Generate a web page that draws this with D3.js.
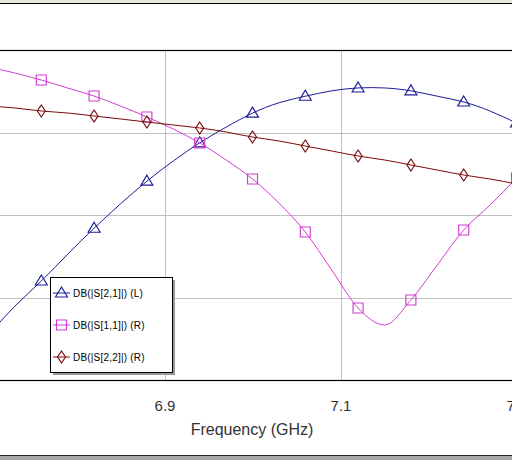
<!DOCTYPE html>
<html>
<head>
<meta charset="utf-8">
<script src="https://cdn.jsdelivr.net/npm/d3@7"></script>
<style>
  html, body { margin: 0; padding: 0; background: #fff; }
  svg { display: block; }
</style>
</head>
<body>
<svg id="chart" width="512" height="460"></svg>
<script>
// ---- data ----
const freqs = [6.70, 6.73, 6.76, 6.79, 6.82, 6.85, 6.88, 6.91, 6.94, 6.97, 7.00,
               7.03, 7.06, 7.09, 7.12, 7.15, 7.18, 7.21, 7.24, 7.27, 7.30];
// DB(|S[2,1]|) on left axis
const s21 = [-6.91, -6.21, -5.60, -4.95, -4.32, -3.73, -3.18, -2.69, -2.25, -1.87, -1.53,
             -1.28, -1.12, -0.99, -0.92, -0.92, -0.99, -1.12, -1.26, -1.48, -1.77];
// DB(|S[1,1]|) on right axis
const s11 = [-2.06, -2.79, -3.64, -4.61, -5.58, -6.79, -8.12, -9.58, -11.27, -13.33, -15.64,
             -18.55, -22.06, -26.67, -31.27, -33.33, -30.30, -26.06, -21.82, -18.79, -15.52];
// DB(|S[2,2]|) on right axis
const s22 = [-6.79, -7.03, -7.39, -7.64, -8.00, -8.36, -8.73, -9.09, -9.45, -9.94, -10.55,
             -11.03, -11.64, -12.24, -12.85, -13.33, -13.94, -14.55, -15.15, -15.64, -16.24];
const xGridTicks = [6.7, 6.9, 7.1, 7.3];
const xLabelTicks = [6.9, 7.1, 7.3];
const xTickLabels = ["6.9", "7.1", "7.3"];
const yLeftGrid = [-6, -4, -2];
const legendLabels = ["DB(|S[2,1]|) (L)", "DB(|S[1,1]|) (R)", "DB(|S[2,2]|) (R)"];
const xTitle = "Frequency (GHz)";

// ---- layout ----
const W = 512, H = 460;
const plot = { left: -11.5, right: 516.5, top: 50, bottom: 380 };
const svg = d3.select("#chart");

const x = d3.scaleLinear().domain([6.7, 7.3]).range([plot.left, plot.right]);
const yL = d3.scaleLinear().domain([-8, 0]).range([plot.bottom, plot.top]);
const yR = d3.scaleLinear().domain([-40, 0]).range([plot.bottom, plot.top]);

// window frame bits
svg.append("rect").attr("x", 0).attr("y", 0).attr("width", W).attr("height", 3).attr("fill", "#ece9d8");
svg.append("line").attr("x1", 0).attr("x2", W).attr("y1", 3.5).attr("y2", 3.5).attr("stroke", "#000");
svg.append("rect").attr("x", 0).attr("y", 455).attr("width", W).attr("height", 5).attr("fill", "#a8a8a8");
svg.append("line").attr("x1", 0).attr("x2", W).attr("y1", 455.5).attr("y2", 455.5).attr("stroke", "#222");

// grid
const grid = svg.append("g");
grid.append("g")
  .attr("transform", `translate(0,${plot.top})`)
  .call(d3.axisBottom(x).tickValues(xGridTicks).tickSize(plot.bottom - plot.top).tickFormat(""))
  .call(g => g.select(".domain").remove())
  .call(g => g.selectAll("line").attr("stroke", "#c0c0c0").attr("shape-rendering", "crispEdges"));
grid.append("g")
  .attr("transform", `translate(${plot.left},0)`)
  .call(d3.axisRight(yL).tickValues(yLeftGrid).tickSize(plot.right - plot.left).tickFormat(""))
  .call(g => g.select(".domain").remove())
  .call(g => g.selectAll("line").attr("stroke", "#c0c0c0").attr("shape-rendering", "crispEdges"));

// plot border
svg.append("rect")
  .attr("x", plot.left + 0.5).attr("y", plot.top + 0.5)
  .attr("width", plot.right - plot.left).attr("height", plot.bottom - plot.top)
  .attr("fill", "none").attr("stroke", "#000").attr("stroke-width", 1.2);

// x axis labels
const xa = svg.append("g")
  .attr("transform", `translate(0,${plot.bottom})`)
  .call(d3.axisBottom(x).tickValues(xLabelTicks).tickSize(0).tickPadding(0)
        .tickFormat((d, i) => xTickLabels[i]));
xa.select(".domain").remove();
xa.selectAll("text")
  .attr("dy", null).attr("y", 31)
  .attr("font-family", "Arial, 'Liberation Sans', sans-serif")
  .attr("font-size", 15).attr("fill", "#333");

svg.append("text")
  .attr("x", 252).attr("y", 435)
  .attr("text-anchor", "middle")
  .attr("font-family", "Arial, 'Liberation Sans', sans-serif")
  .attr("font-size", 16).attr("fill", "#333")
  .text(xTitle);

// series
const markerPaths = {
  tri: "M0,-6L6,4L-6,4Z",
  sq: "M-5,-5H5V5H-5Z",
  dia: "M0,-6L4,0L0,6L-4,0Z"
};
const series = [
  { vals: s21, y: yL, color: "#1c1c96", marker: "tri", curve: d3.curveNatural },
  { vals: s11, y: yR, color: "#d23cd2", marker: "sq", curve: d3.curveMonotoneX },
  { vals: s22, y: yR, color: "#7a0a0a", marker: "dia", curve: d3.curveNatural }
];

const plotG = svg.append("g");
series.forEach(s => {
  const pts = freqs.map((f, i) => [f, s.vals[i]]);
  plotG.append("path")
    .datum(pts)
    .attr("fill", "none").attr("stroke", s.color).attr("stroke-width", 1)
    .attr("d", d3.line().x(d => x(d[0])).y(d => s.y(d[1])).curve(s.curve));
  plotG.selectAll(null)
    .data(pts.filter((d, i) => i % 2 === 0))
    .enter().append("path")
    .attr("transform", d => `translate(${x(d[0])},${s.y(d[1])})`)
    .attr("d", markerPaths[s.marker])
    .attr("fill", "none").attr("stroke", s.color).attr("stroke-width", 1.15);
});

// legend
const lg = svg.append("g");
const lgBox = { x: 50, y: 277, w: 122, h: 95 };
lg.append("rect")
  .attr("x", lgBox.x + 3).attr("y", lgBox.y + 3).attr("width", lgBox.w).attr("height", lgBox.h)
  .attr("fill", "#9a9a9a");
lg.append("rect")
  .attr("x", lgBox.x + 0.5).attr("y", lgBox.y + 0.5).attr("width", lgBox.w).attr("height", lgBox.h)
  .attr("fill", "#fff").attr("stroke", "#000");
const rowY = [293, 325, 357];
series.forEach((s, i) => {
  const yy = rowY[i];
  lg.append("line").attr("x1", 53).attr("x2", 70).attr("y1", yy).attr("y2", yy)
    .attr("stroke", s.color);
  lg.append("path").attr("transform", `translate(61.5,${yy})`)
    .attr("d", markerPaths[s.marker])
    .attr("fill", "none").attr("stroke", s.color).attr("stroke-width", 1.15);
  lg.append("text")
    .attr("x", 73).attr("y", yy + 3.5)
    .attr("font-family", "Arial, 'Liberation Sans', sans-serif")
    .attr("font-size", 10).attr("letter-spacing", 0.2).attr("fill", "#000")
    .text(legendLabels[i]);
});
</script>
</body>
</html>
